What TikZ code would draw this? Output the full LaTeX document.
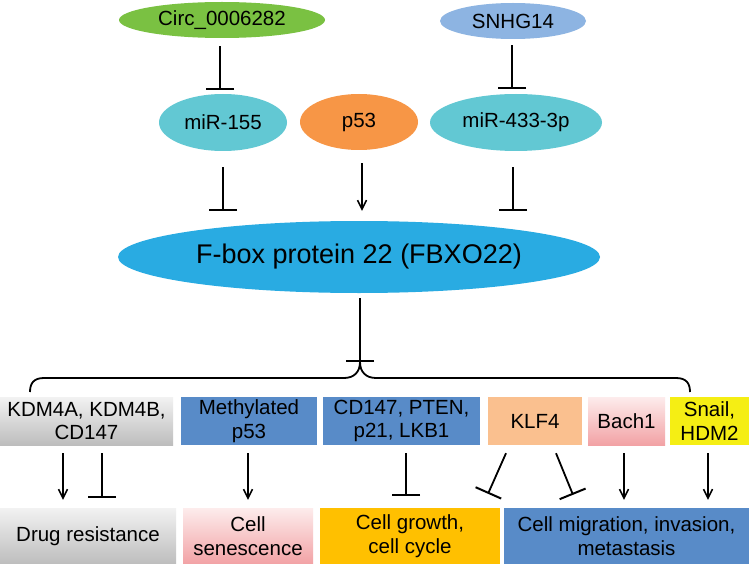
\documentclass[tikz,border=0pt]{standalone}
\usepackage{fontspec}
\setmainfont{Liberation Sans}
\usetikzlibrary{arrows.meta,shapes.geometric}
\definecolor{cgreen}{HTML}{7AC142}
\definecolor{csnhg}{HTML}{8DB4E2}
\definecolor{cteal}{HTML}{62C8D3}
\definecolor{corange}{HTML}{F79646}
\definecolor{cfbx}{HTML}{29ABE2}
\definecolor{cblue}{HTML}{588BC8}
\definecolor{cpeach}{HTML}{FAC08F}
\definecolor{cyellow}{HTML}{F5EE14}
\definecolor{cgold}{HTML}{FFC000}
\definecolor{cgrayT}{HTML}{F2F2F2}
\definecolor{cgrayB}{HTML}{BDBDBD}
\definecolor{cpinkT}{HTML}{FDECEC}
\definecolor{cpinkB}{HTML}{F2A2A5}
\tikzset{
  ell/.style={ellipse, inner sep=0pt, font=\fontsize{20.5}{23}\selectfont},
  box/.style={rectangle, inner sep=0pt, align=center, font=\fontsize{20.5}{23.5}\selectfont},
  graybox/.style={box, top color=cgrayT, bottom color=cgrayB},
  pinkbox/.style={box, top color=cpinkT, bottom color=cpinkB},
  ln/.style={line width=1.8pt, black},
  act/.style={ln, -{Straight Barb[length=9pt,width=9pt,line width=1.5pt]}},
  inh/.style={ln, -{Bar[width=28pt,line width=2pt]}},
}
\begin{document}
\begin{tikzpicture}[x=1pt,y=-1pt]
\useasboundingbox (0,0) rectangle (749,564);
\fill[white] (0,0) rectangle (749,564);
% top ellipses
\node[ell, fill=cgreen, minimum width=206pt, minimum height=36pt] (circ) at (222,20) {Circ\_0006282};
\node[ell, fill=csnhg, minimum width=146pt, minimum height=36pt] (snhg) at (513,21) {SNHG14};
\node[ell, fill=cteal, minimum width=128pt, minimum height=57pt] (m155) at (223,122.5) {miR-155};
\node[ell, fill=corange, minimum width=118pt, minimum height=56pt] (p53) at (359,122) {p53};
\node[ell, fill=cteal, minimum width=172pt, minimum height=57pt] (m433) at (516,122.5) {miR-433-3p};
\node[ellipse, inner sep=0pt, fill=cfbx, minimum width=482pt, minimum height=72pt, font=\fontsize{27}{30}\selectfont] (fb) at (359,257) {F-box protein 22 (FBXO22)};
% top connectors
\draw[inh, shorten <=8pt, shorten >=4pt] ([xshift=-2pt]circ.south) -- ([xshift=-3pt]m155.north);
\draw[inh, shorten <=6pt, shorten >=5pt] ([xshift=-1pt]snhg.south) -- ([xshift=-4pt]m433.north);
\draw[inh, shorten <=16pt, shorten >=10pt] (m155.south) -- (m155.south |- fb.north);
\draw[act, shorten <=13pt, shorten >=10pt] ([xshift=3pt]p53.south) -- ([xshift=3pt]p53.south |- fb.north);
\draw[inh, shorten <=16pt, shorten >=10pt] ([xshift=-3pt]m433.south) -- ([xshift=-3pt]m433.south |- fb.north);
% brace
\coordinate (tip) at (360,362);
\coordinate (bl) at (30,392);
\coordinate (br) at (690,392);
\draw[inh, shorten <=5pt] ([xshift=1pt]fb.south) -- (tip);
\draw[ln] (bl) .. controls (30,383) and (34,378) .. (44,378) -- (344,378)
  .. controls (354,378) and (360,372) .. (tip)
  .. controls (360,372) and (366,378) .. (376,378) -- (676,378)
  .. controls (686,378) and (690,383) .. (br);
% row 1 boxes
\node[graybox, minimum width=173pt, minimum height=48pt] (b1) at (86.5,421) {KDM4A, KDM4B,\\CD147};
\node[box, fill=cblue, minimum width=136pt, minimum height=48pt] (b2) at (249,421) {Methylated\\p53};
\node[box, fill=cblue, minimum width=157pt, minimum height=48pt] (b3) at (401.5,421) {CD147, PTEN,\\p21, LKB1};
\node[box, fill=cpeach, minimum width=94pt, minimum height=48pt] (b4) at (535,421) {KLF4};
\node[pinkbox, minimum width=77pt, minimum height=48pt] (b5) at (626.5,421) {Bach1};
\node[box, fill=cyellow, minimum width=79pt, minimum height=48pt] (b6) at (709.5,421) {Snail,\\HDM2};
% row 2 boxes
\node[graybox, minimum width=176pt, minimum height=56pt] (c1) at (88,536) {Drug resistance};
\node[pinkbox, minimum width=130pt, minimum height=56pt] (c2) at (248,536) {Cell\\senescence};
\node[box, fill=cgold, minimum width=180pt, minimum height=56pt] (c3) at (410,536) {Cell growth,\\cell cycle};
\node[box, fill=cblue, minimum width=245pt, minimum height=56pt] (c4) at (626.5,536) {Cell migration, invasion,\\metastasis};
% lower connectors
\draw[act] ([xshift=-23.5pt,yshift=-8pt]b1.south) -- ([xshift=-25pt,yshift=8pt]c1.north);
\draw[inh] ([xshift=15.5pt,yshift=-8pt]b1.south) -- ([xshift=14pt,yshift=10pt]c1.north);
\draw[act] ([xshift=-1pt,yshift=-8pt]b2.south) -- ([yshift=8pt]c2.north);
\draw[inh] ([xshift=4.5pt,yshift=-8pt]b3.south) -- ([xshift=-4pt,yshift=12pt]c3.north);
\draw[inh] ([xshift=-29pt,yshift=-8pt]b4.south) -- ([xshift=78pt,yshift=14pt]c3.north);
\draw[inh] ([xshift=21pt,yshift=-8pt]b4.south) -- ([xshift=-53.5pt,yshift=13pt]c4.north);
\draw[act] ([xshift=-2.5pt,yshift=-8pt]b5.south) -- ([xshift=-2.5pt,yshift=8pt]c4.north);
\draw[act] ([xshift=-1.5pt,yshift=-8pt]b6.south) -- ([xshift=81.5pt,yshift=8pt]c4.north);
\end{tikzpicture}
\end{document}
